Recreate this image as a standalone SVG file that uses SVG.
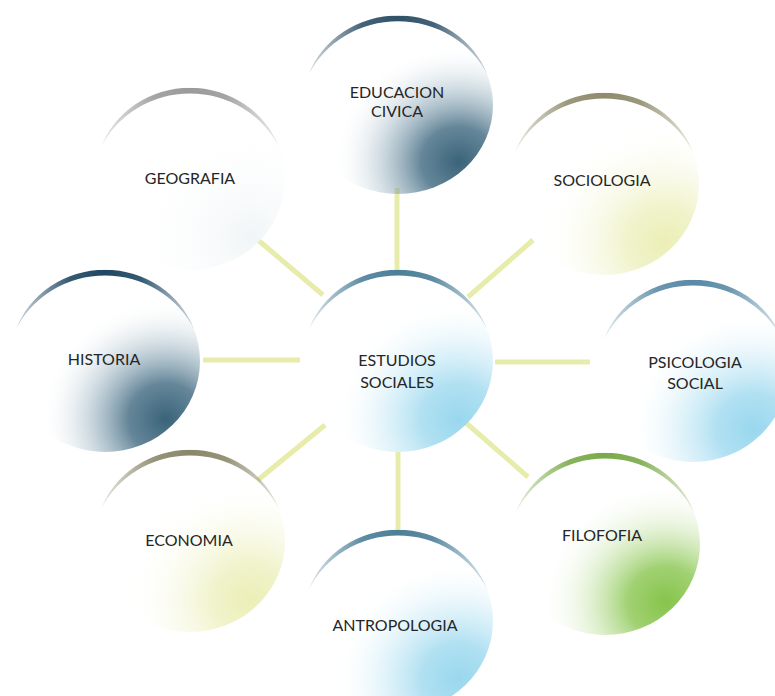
<svg xmlns="http://www.w3.org/2000/svg" width="775" height="696" viewBox="0 0 775 696">
<style>
.lbl{font-family:Lato,"Open Sans","Liberation Sans",sans-serif;font-size:16px;fill:#262626;text-anchor:middle}
.con{stroke:#e8ecab;stroke-width:5;fill:none}
</style>
<defs>
<path id="cres" d="M -89.3 -32.5 A 95 95 0 0 1 89.3 -32.5 A 98.8 98.8 0 0 0 -89.3 -32.5 Z"/>
<linearGradient id="fadeG" x1="0" y1="0" x2="1" y2="0">
<stop offset="0" stop-color="#fff" stop-opacity="0.2"/>
<stop offset="0.3" stop-color="#fff" stop-opacity="0.9"/>
<stop offset="0.5" stop-color="#fff" stop-opacity="1"/>
<stop offset="0.7" stop-color="#fff" stop-opacity="0.9"/>
<stop offset="1" stop-color="#fff" stop-opacity="0.2"/>
</linearGradient>
<mask id="fade" maskContentUnits="objectBoundingBox"><rect width="1" height="1" fill="url(#fadeG)"/></mask>
<radialGradient id="gCyan" cx="0.82" cy="0.82" r="0.66">
<stop offset="0" stop-color="#99d7ee" stop-opacity="1"/>
<stop offset="0.3" stop-color="#a3dbf0" stop-opacity="0.85"/>
<stop offset="0.65" stop-color="#bfe6f4" stop-opacity="0.35"/>
<stop offset="1" stop-color="#ffffff" stop-opacity="0"/>
</radialGradient>
<radialGradient id="gDark" cx="0.82" cy="0.82" r="0.66">
<stop offset="0" stop-color="#3a6379" stop-opacity="1"/>
<stop offset="0.3" stop-color="#4a7187" stop-opacity="0.85"/>
<stop offset="0.65" stop-color="#8aa7b7" stop-opacity="0.35"/>
<stop offset="1" stop-color="#ffffff" stop-opacity="0"/>
</radialGradient>
<radialGradient id="gGreen" cx="0.82" cy="0.82" r="0.66">
<stop offset="0" stop-color="#86c44a" stop-opacity="1"/>
<stop offset="0.3" stop-color="#90c95a" stop-opacity="0.85"/>
<stop offset="0.65" stop-color="#bfe09d" stop-opacity="0.35"/>
<stop offset="1" stop-color="#ffffff" stop-opacity="0"/>
</radialGradient>
<radialGradient id="gYellow" cx="0.82" cy="0.82" r="0.66">
<stop offset="0" stop-color="#ebefb5" stop-opacity="1"/>
<stop offset="0.3" stop-color="#eef1c2" stop-opacity="0.85"/>
<stop offset="0.65" stop-color="#f4f6d8" stop-opacity="0.35"/>
<stop offset="1" stop-color="#ffffff" stop-opacity="0"/>
</radialGradient>
<radialGradient id="gGray" cx="0.82" cy="0.82" r="0.66">
<stop offset="0" stop-color="#f1f5f7" stop-opacity="1"/>
<stop offset="1" stop-color="#ffffff" stop-opacity="0"/>
</radialGradient>
</defs>
<rect width="775" height="696" fill="#ffffff"/>
<g id="connectors">
<line class="con" x1="397" y1="188" x2="397" y2="270"/>
<line class="con" x1="398" y1="452" x2="398" y2="530"/>
<line class="con" x1="203" y1="360" x2="300" y2="360"/>
<line class="con" x1="495" y1="362" x2="590" y2="362"/>
<line class="con" x1="258" y1="240" x2="323" y2="295"/>
<line class="con" x1="468" y1="297" x2="533" y2="240"/>
<line class="con" x1="258" y1="480" x2="325" y2="425"/>
<line class="con" x1="465" y1="422" x2="528" y2="477"/>
</g>
<g id="n-center">
<ellipse cx="398" cy="361" rx="95" ry="91" fill="url(#gCyan)"/>
<use href="#cres" transform="translate(398,361) scale(1,0.96)" fill="#4c7f98" mask="url(#fade)"/>
<text class="lbl" x="397" y="366">ESTUDIOS</text>
<text class="lbl" x="397" y="388">SOCIALES</text>
</g>
<g id="n-educacion">
<ellipse cx="398" cy="105" rx="95" ry="89" fill="url(#gDark)"/>
<use href="#cres" transform="translate(398,105) scale(1,0.94)" fill="#2f5168" mask="url(#fade)"/>
<text class="lbl" x="397" y="98">EDUCACION</text>
<text class="lbl" x="397" y="117">CIVICA</text>
</g>
<g id="n-geografia">
<ellipse cx="190" cy="179" rx="95" ry="91" fill="url(#gGray)"/>
<use href="#cres" transform="translate(190,179) scale(1,0.96)" fill="#9a9a9a" mask="url(#fade)"/>
<text class="lbl" x="190" y="184">GEOGRAFIA</text>
</g>
<g id="n-sociologia">
<ellipse cx="604" cy="184" rx="95" ry="91" fill="url(#gYellow)"/>
<use href="#cres" transform="translate(604,184) scale(1,0.96)" fill="#8f8c6c" mask="url(#fade)"/>
<text class="lbl" x="602" y="186">SOCIOLOGIA</text>
</g>
<g id="n-historia">
<ellipse cx="105" cy="361" rx="95" ry="91" fill="url(#gDark)"/>
<use href="#cres" transform="translate(105,361) scale(1,0.96)" fill="#1f4763" mask="url(#fade)"/>
<text class="lbl" x="104" y="365">HISTORIA</text>
</g>
<g id="n-psicologia">
<ellipse cx="693" cy="371" rx="95" ry="91" fill="url(#gCyan)"/>
<use href="#cres" transform="translate(693,371) scale(1,0.96)" fill="#5a8aa6" mask="url(#fade)"/>
<text class="lbl" x="695" y="368">PSICOLOGIA</text>
<text class="lbl" x="695" y="389">SOCIAL</text>
</g>
<g id="n-economia">
<ellipse cx="190" cy="541" rx="95" ry="91" fill="url(#gYellow)"/>
<use href="#cres" transform="translate(190,541) scale(1,0.96)" fill="#8a876a" mask="url(#fade)"/>
<text class="lbl" x="189" y="546">ECONOMIA</text>
</g>
<g id="n-filofofia">
<ellipse cx="605" cy="544" rx="95" ry="91" fill="url(#gGreen)"/>
<use href="#cres" transform="translate(605,544) scale(1,0.96)" fill="#7aaa4a" mask="url(#fade)"/>
<text class="lbl" x="602" y="541">FILOFOFIA</text>
</g>
<g id="n-antropologia">
<ellipse cx="398" cy="621" rx="95" ry="91" fill="url(#gCyan)"/>
<use href="#cres" transform="translate(398,621) scale(1,0.96)" fill="#4c7f98" mask="url(#fade)"/>
<text class="lbl" x="395" y="631">ANTROPOLOGIA</text>
</g>
</svg>
